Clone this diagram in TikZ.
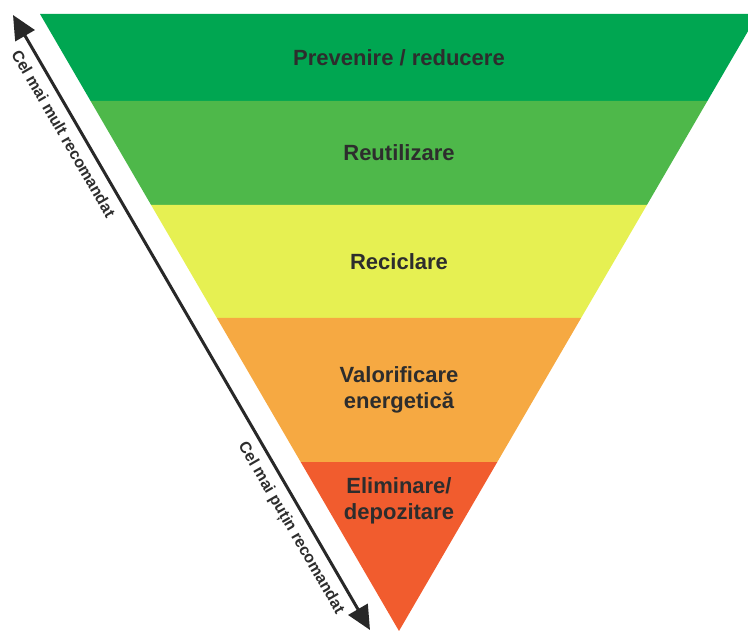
\documentclass[tikz,border=0pt]{standalone}
\usepackage{fontspec}
\setmainfont{Liberation Sans}
\usetikzlibrary{arrows.meta}
\definecolor{bandA}{RGB}{0,166,81}
\definecolor{bandB}{RGB}{78,184,74}
\definecolor{bandC}{RGB}{230,240,82}
\definecolor{bandD}{RGB}{246,169,66}
\definecolor{bandE}{RGB}{241,92,46}
\definecolor{txtgray}{RGB}{45,45,45}
\definecolor{arrgray}{RGB}{40,40,40}
\tikzset{
  lbl/.style={font=\bfseries\fontsize{22}{26}\selectfont, text=txtgray, align=center},
  side/.style={font=\bfseries\fontsize{16}{19}\selectfont, text=txtgray, sloped},
  arr/.style={draw=arrgray, line width=3pt,
    {Triangle[length=24pt,width=22pt]}-{Triangle[length=24pt,width=22pt]}}
}

\begin{document}
\begin{tikzpicture}[x=1pt,y=-1pt]
  \useasboundingbox (0,0) rectangle (748,631);
  \clip (0,0) rectangle (748,631);
  % bands, top to bottom
  \fill[bandA] (40,14) -- (758,14) -- (707.4,101) -- (90.6,101) -- cycle;
  \node[lbl] (prev) at (399,58) {Prevenire / reducere};
  \fill[bandB] (90.6,101) -- (707.4,101) -- (646.9,205) -- (151.1,205) -- cycle;
  \node[lbl] (reut) at (399,153) {Reutilizare};
  \fill[bandC] (151.1,205) -- (646.9,205) -- (581.1,318) -- (216.9,318) -- cycle;
  \node[lbl] (recic) at (399,262) {Reciclare};
  \fill[bandD] (216.9,318) -- (581.1,318) -- (497.3,462) -- (300.7,462) -- cycle;
  \node[lbl] (valor) at (399,390) {Valorificare\\energetică};
  \fill[bandE] (300.7,462) -- (497.3,462) -- (399,631) -- cycle;
  \node[lbl] (elim) at (399,501) {Eliminare/\\depozitare};
  % arrow on the left side
  \coordinate (up) at (13,15);
  \coordinate (down) at (370,630);
  \draw[arr] (up) -- (down)
    node[side, pos=0.18, below=5pt] (most) {Cel mai mult recomandat}
    node[side, pos=0.82, below=5pt] (least) {Cel mai puțin recomandat};
\end{tikzpicture}
\end{document}
